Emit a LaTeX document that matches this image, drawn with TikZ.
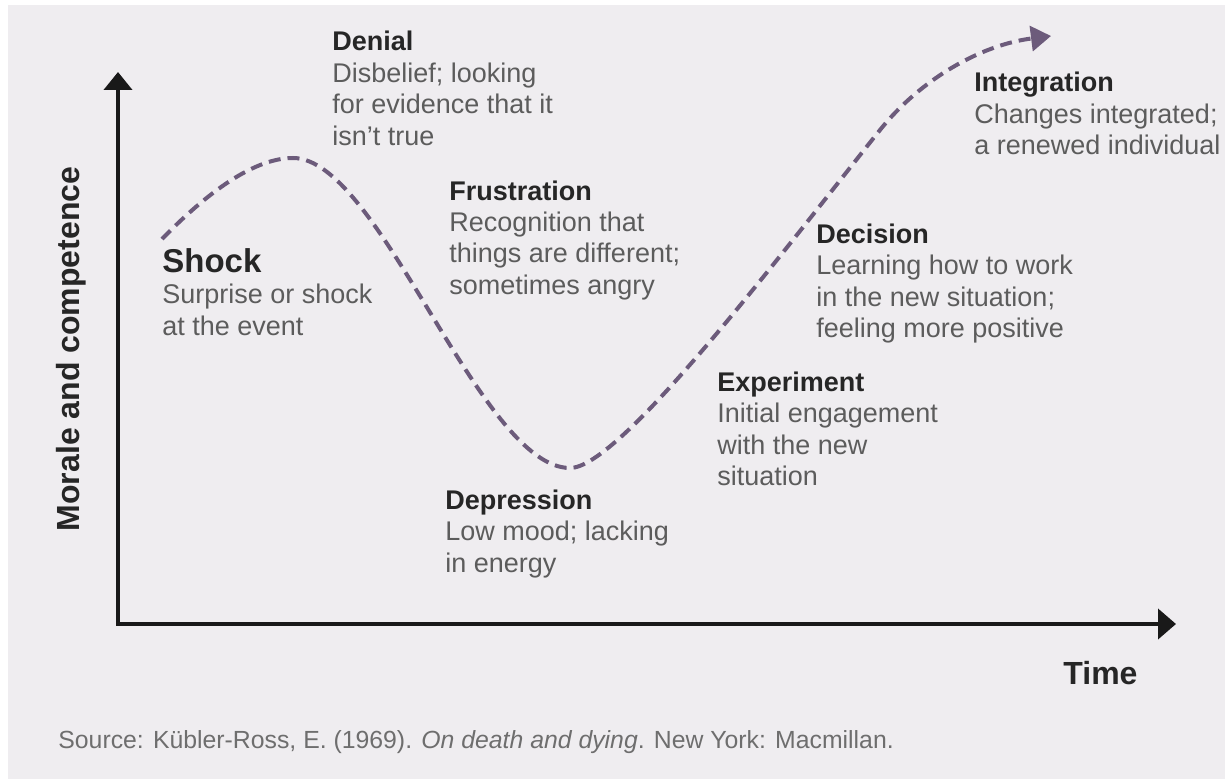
\documentclass[tikz,border=0pt]{standalone}
\usepackage{fontspec}
\setmainfont{Liberation Sans}
\usetikzlibrary{arrows.meta}
\definecolor{bggray}{HTML}{EFEDF0}
\definecolor{curvepurple}{HTML}{6C5B7B}
\definecolor{headgray}{HTML}{262626}
\definecolor{bodygray}{HTML}{5C5C5C}
\definecolor{srcgray}{HTML}{6E6E6E}
\begin{document}
\begin{tikzpicture}[x=0.5pt,y=-0.5pt,
  stage/.style={anchor=base west,inner sep=0pt,text=bodygray,font=\fontsize{13.5}{15.75}\selectfont},
  axislabel/.style={inner sep=0pt,text=headgray,font=\fontsize{16}{19}\selectfont\bfseries},
  axis/.style={line width=2pt,black!90},
  curve/.style={line width=2pt,curvepurple,dash pattern=on 6pt off 3.5pt}]
\useasboundingbox (0,0) rectangle (1227,781);
\fill[white] (0,0) rectangle (1227,781);
\fill[bggray] (8,5) rectangle (1225,779);

% axes
\coordinate (origin) at (118,624);
\coordinate (ytop) at (118,72);
\coordinate (xend) at (1176,624);
\draw[axis,{Triangle[length=9pt,width=14pt]}-{Triangle[length=9pt,width=15pt]}] (ytop) -- (origin) -- (xend);

\node[axislabel,rotate=90,anchor=base] (ylabel) at (79,349) {Morale and competence};
\node[axislabel,anchor=base west] (xlabel) at (1063,684) {Time};

% curve
\coordinate (start) at (162,239);
\coordinate (peak) at (293,158);
\coordinate (trough) at (570,468);
\coordinate (bend) at (880,130);
\coordinate (end) at (1051,36);
\draw[curve,-{Triangle[length=10pt,width=12.5pt]}] (start) .. controls (200,200) and (250,158) .. (peak)
  .. controls (380,158) and (480,468) .. (trough)
  .. controls (620,468) and (780,255) .. (bend)
  .. controls (920,80) and (980,45) .. (end);

% stages
\node[stage] (shock) at (162,272) {\begin{tabular}[t]{@{}l@{}}{\color{headgray}\fontsize{16.5}{19}\selectfont\bfseries Shock}\\ Surprise or shock\\ at the event\end{tabular}};
\node[stage] (denial) at (332,51) {\begin{tabular}[t]{@{}l@{}}{\color{headgray}\bfseries Denial}\\ Disbelief; looking\\ for evidence that it\\ isn't true\end{tabular}};
\node[stage] (frustration) at (449,200) {\begin{tabular}[t]{@{}l@{}}{\color{headgray}\bfseries Frustration}\\ Recognition that\\ things are different;\\ sometimes angry\end{tabular}};
\node[stage] (depression) at (445,509) {\begin{tabular}[t]{@{}l@{}}{\color{headgray}\bfseries Depression}\\ Low mood; lacking\\ in energy\end{tabular}};
\node[stage] (experiment) at (717,391) {\begin{tabular}[t]{@{}l@{}}{\color{headgray}\bfseries Experiment}\\ Initial engagement\\ with the new\\ situation\end{tabular}};
\node[stage] (decision) at (816,243) {\begin{tabular}[t]{@{}l@{}}{\color{headgray}\bfseries Decision}\\ Learning how to work\\ in the new situation;\\ feeling more positive\end{tabular}};
\node[stage] (integration) at (974,92) {\begin{tabular}[t]{@{}l@{}}{\color{headgray}\bfseries Integration}\\ Changes integrated;\\ a renewed individual\end{tabular}};

% source
\node[anchor=base west,inner sep=0pt,text=srcgray,font=\fontsize{12.4}{14}\selectfont] (source) at (58,748) {Source: Kübler-Ross, E. (1969). \textit{On death and dying}. New York: Macmillan.};
\end{tikzpicture}
\end{document}
